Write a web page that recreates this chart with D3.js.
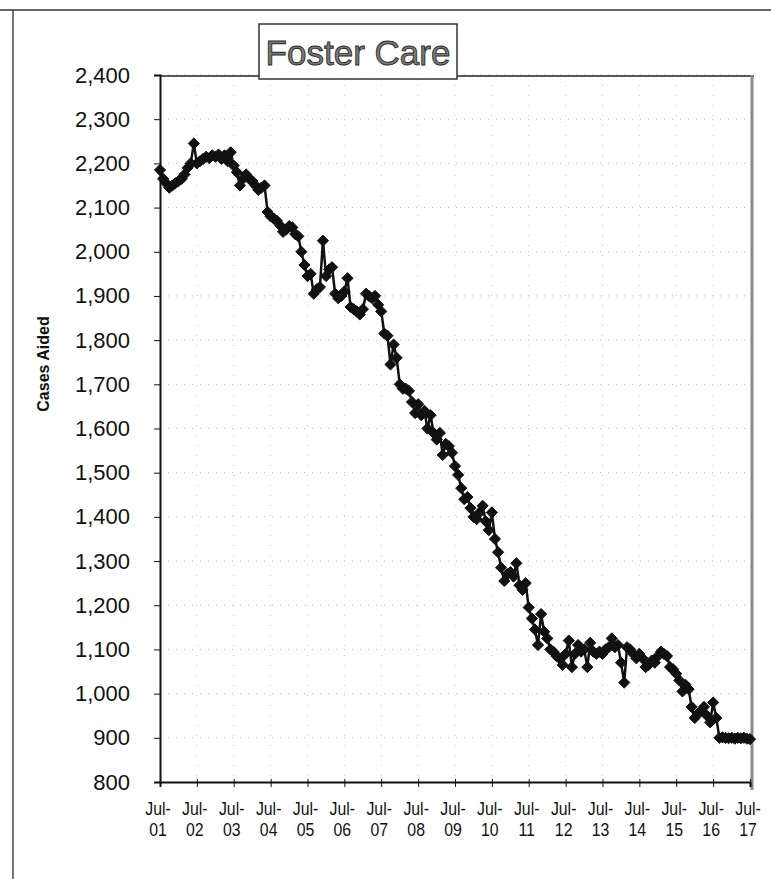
<!DOCTYPE html>
<html>
<head>
<meta charset="utf-8">
<script src="https://d3js.org/d3.v7.min.js"></script>
<style>
  body { margin: 0; background: #fff; }
  svg { font-family: "Liberation Sans", Arial, sans-serif; }
</style>
</head>
<body>
<div id="chartHere"></div>
<script>

// monthly cases aided, Jul 2001 .. Jul 2017
var cases = [
  2185,2165,2155,2145,2150,2155,2160,2165,2175,2190,2200,2245,   // Jul01-Jun02
  2200,2205,2210,2215,2212,2218,2215,2220,2210,2218,2205,2225,   // Jul02-Jun03
  2195,2180,2150,2165,2175,2165,2160,2150,2140,2145,2150,2090,   // Jul03-Jun04
  2080,2075,2070,2060,2045,2050,2058,2055,2040,2035,2000,1970,   // Jul04-Jun05
  1945,1950,1905,1915,1920,2025,1945,1960,1965,1905,1895,1900,   // Jul05-Jun06
  1910,1940,1875,1870,1865,1858,1870,1905,1900,1895,1900,1880,   // Jul06-Jun07
  1865,1815,1810,1745,1790,1760,1700,1690,1690,1685,1660,1635,   // Jul07-Jun08
  1655,1630,1640,1600,1630,1590,1575,1590,1540,1565,1560,1545,   // Jul08-Jun09
  1515,1495,1465,1440,1445,1420,1400,1395,1410,1425,1390,1370,   // Jul09-Jun10
  1410,1350,1320,1285,1255,1270,1275,1265,1295,1245,1235,1250,   // Jul10-Jun11
  1195,1170,1145,1110,1180,1140,1125,1100,1095,1085,1080,1065,   // Jul11-Jun12
  1090,1120,1060,1090,1110,1095,1100,1060,1115,1095,1090,1095,   // Jul12-Jun13
  1090,1100,1105,1125,1105,1110,1070,1025,1105,1100,1090,1080,   // Jul13-Jun14
  1090,1080,1060,1065,1075,1070,1085,1095,1090,1085,1060,1055,   // Jul14-Jun15
  1045,1030,1005,1020,1010,970,945,955,960,970,950,935,          // Jul15-Jun16
  980,945,900,901,900,899,900,898,900,899,900,898,               // Jul16-Jun17
  897                                                             // Jul17
];
var startYear = 2001, startMonth = 6;   // July
var yearLabels = ["01","02","03","04","05","06","07","08","09","10","11","12","13","14","15","16","17"];
var yTicks = [800,900,1000,1100,1200,1300,1400,1500,1600,1700,1800,1900,2000,2100,2200,2300,2400];

var dims = {"width": 771, "height": 879};
var plot = {"left": 160, "right": 750, "top": 75, "bottom": 782};

var svg = d3.select("div#chartHere")
  .append("svg")
    .attr("width", dims.width)
    .attr("height", dims.height);

var months = cases.map(function (d, i) { return new Date(startYear, startMonth + i, 1); });
var yearDates = yearLabels.map(function (d, i) { return new Date(startYear + i, startMonth, 1); });

var xScale = d3.scaleTime()
    .domain([months[0], months[months.length - 1]])
    .range([plot.left, plot.right]);

var yScale = d3.scaleLinear()
    .domain([800, 2400])
    .range([plot.bottom, plot.top]);

// outer frame (left + top edge of the page box)
svg.append("line")
   .attr("x1", 13).attr("x2", 13).attr("y1", 10).attr("y2", dims.height)
   .attr("stroke", "#444").attr("stroke-width", 1.5);
svg.append("line")
   .attr("x1", 0).attr("x2", dims.width).attr("y1", 10).attr("y2", 10)
   .attr("stroke", "#333").attr("stroke-width", 1.5);

// dotted grid
svg.append("g").selectAll("line")
   .data(yTicks.slice(1)).enter().append("line")
   .attr("x1", plot.left).attr("x2", plot.right)
   .attr("y1", function (d) { return yScale(d); })
   .attr("y2", function (d) { return yScale(d); })
   .attr("stroke", "#bbb").attr("stroke-dasharray", "1,7");
svg.append("g").selectAll("line")
   .data(yearDates.slice(1, -1)).enter().append("line")
   .attr("x1", function (d) { return xScale(d); })
   .attr("x2", function (d) { return xScale(d); })
   .attr("y1", plot.top).attr("y2", plot.bottom)
   .attr("stroke", "#ccc").attr("stroke-dasharray", "1,9");

// plot border top / right
svg.append("line")
   .attr("x1", plot.left).attr("x2", plot.right + 4).attr("y1", plot.top + 1).attr("y2", plot.top + 1)
   .attr("stroke", "#222").attr("stroke-width", 1.5);
svg.append("line")
   .attr("x1", plot.right + 2).attr("x2", plot.right + 2).attr("y1", plot.top).attr("y2", plot.bottom + 8)
   .attr("stroke", "#888").attr("stroke-width", 3);

// y axis
var yAxis = d3.axisLeft(yScale)
    .tickValues(yTicks)
    .tickSize(6)
    .tickPadding(24)
    .tickFormat(d3.format(","));
var gy = svg.append("g")
    .attr("transform", "translate(" + plot.left + ",0)")
    .call(yAxis);
gy.select(".domain").attr("stroke", "#111").attr("stroke-width", 2);
gy.selectAll(".tick line").attr("stroke", "#111");
gy.selectAll("text")
  .attr("font-size", "22px")
  .attr("font-family", "'Liberation Sans', Arial, sans-serif")
  .attr("fill", "#111");

// x axis
var xAxis = d3.axisBottom(xScale)
    .tickValues(yearDates)
    .tickSize(5)
    .tickFormat("");
var gx = svg.append("g")
    .attr("transform", "translate(0," + plot.bottom + ")")
    .call(xAxis);
gx.select(".domain").attr("stroke", "#111").attr("stroke-width", 2);
gx.selectAll(".tick line").attr("stroke", "#111").attr("y1", -3);

var xl = svg.append("g").selectAll("text")
   .data(yearDates).enter().append("text")
   .attr("transform", function (d) { return "translate(" + (xScale(d) - 2) + ",0) scale(0.88,1)"; })
   .attr("text-anchor", "middle")
   .attr("font-size", "18px")
   .attr("fill", "#111");
xl.append("tspan").attr("x", 0).attr("y", 815).text("Jul-");
xl.append("tspan").attr("x", 0).attr("y", 836).text(function (d, i) { return yearLabels[i]; });

// y title
svg.append("text")
   .attr("transform", "translate(49,364) rotate(-90)")
   .attr("text-anchor", "middle")
   .attr("font-size", "16px")
   .attr("font-weight", "bold")
   .attr("fill", "#111")
   .text("Cases Aided");

// series line
var line = d3.line()
    .x(function (d, i) { return xScale(months[i]); })
    .y(function (d) { return yScale(d); });
svg.append("path")
   .datum(cases)
   .attr("d", line)
   .attr("fill", "none")
   .attr("stroke", "#111")
   .attr("stroke-width", 2.5);

// diamond markers
var diamond = d3.symbol().type(d3.symbolDiamond2).size(80);
svg.append("g").selectAll("path")
   .data(cases).enter().append("path")
   .attr("d", diamond)
   .attr("transform", function (d, i) { return "translate(" + xScale(months[i]) + "," + yScale(d) + ")"; })
   .attr("fill", "#111")
   .attr("stroke", "#111")
   .attr("stroke-width", 1);

// title box
svg.append("rect")
   .attr("x", 259).attr("y", 24).attr("width", 198).attr("height", 55)
   .attr("fill", "#fff").attr("stroke", "#333").attr("stroke-width", 1.5);
svg.append("text")
   .attr("x", 358).attr("y", 65)
   .attr("text-anchor", "middle")
   .attr("font-size", "35px")
   .attr("fill", "#7a7a7a")
   .attr("stroke", "#2a2a2a")
   .attr("stroke-width", 0.9)
   .text("Foster Care");

</script>
</body>
</html>
